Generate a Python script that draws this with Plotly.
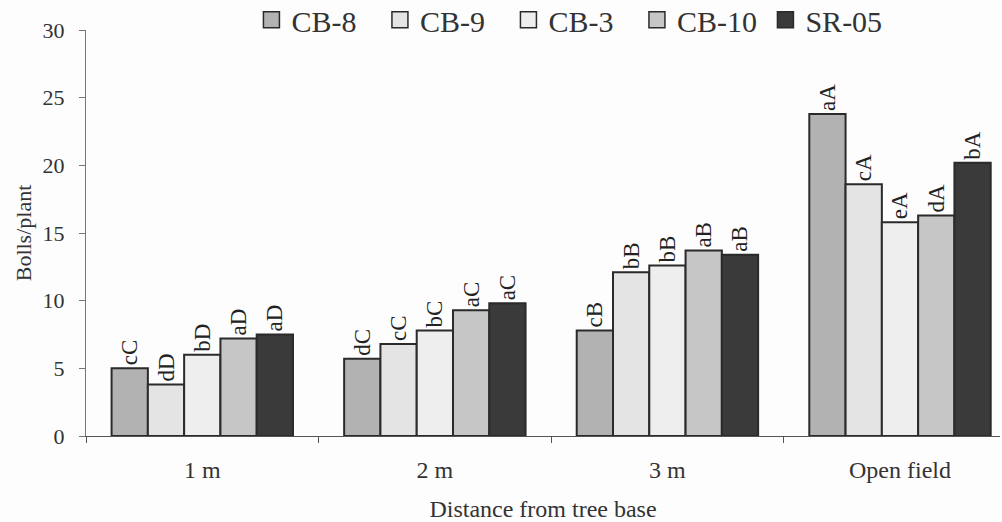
import plotly.graph_objects as go

categories = ["1 m", "2 m", "3 m", "Open field"]
series_names = ["CB-8", "CB-9", "CB-3", "CB-10", "SR-05"]
cb8 = [5.0, 5.7, 7.8, 23.8]
cb9 = [3.8, 6.8, 12.1, 18.6]
cb3 = [6.0, 7.8, 12.6, 15.8]
cb10 = [7.2, 9.3, 13.7, 16.3]
sr05 = [7.5, 9.8, 13.4, 20.2]
lbl_cb8 = ["cC", "dC", "cB", "aA"]
lbl_cb9 = ["dD", "cC", "bB", "cA"]
lbl_cb3 = ["bD", "bC", "bB", "eA"]
lbl_cb10 = ["aD", "aC", "aB", "dA"]
lbl_sr05 = ["aD", "aC", "aB", "bA"]
y_ticks = [0, 5, 10, 15, 20, 25, 30]

values = [cb8, cb9, cb3, cb10, sr05]
labels = [lbl_cb8, lbl_cb9, lbl_cb3, lbl_cb10, lbl_sr05]
colors = ["#b2b2b2", "#e4e4e4", "#eeeeee", "#c6c6c6", "#3a3a3a"]

FONT = "Liberation Serif, Times New Roman, serif"
fig = go.Figure()
for name, vals, lbls, col in zip(series_names, values, labels, colors):
    fig.add_trace(go.Bar(
        x=categories, y=vals, name=name, text=lbls,
        textposition="outside", textangle=-90,
        textfont=dict(family=FONT, size=23, color="#222222"),
        marker=dict(color=col, line=dict(color="#2a2a2a", width=2)),
        cliponaxis=False, showlegend=False,
    ))
for name, col in zip(series_names, colors):
    fig.add_trace(go.Scatter(
        x=[None], y=[None], mode="markers", name=name,
        marker=dict(symbol="square", size=16, color=col,
                    line=dict(color="#2a2a2a", width=1.5)),
        showlegend=True,
    ))

fig.update_layout(
    width=1002, height=522,
    margin=dict(l=86, r=2, t=30, b=86, autoexpand=False),
    paper_bgcolor="#fdfdfd", plot_bgcolor="#fdfdfd",
    barmode="group", bargap=0.22, bargroupgap=0,
    font=dict(family=FONT, color="#333333"),
    legend=dict(orientation="h", x=0.181, xanchor="left", y=1.025, yanchor="middle",
                font=dict(family=FONT, size=30, color="#333333"),
                bgcolor="rgba(0,0,0,0)", entrywidth=83.5, entrywidthmode="pixels",
                itemsizing="trace"),
)
fig.update_xaxes(
    range=[-0.5, 3.43], showline=True, linecolor="#555555", linewidth=1,
    ticks="outside", tickson="boundaries", ticklen=6, tickcolor="#555555",
    tickfont=dict(family=FONT, size=24, color="#333333"),
    ticklabelstandoff=12, automargin=False,
    title=dict(text="Distance from tree base", font=dict(family=FONT, size=24, color="#333333"), standoff=18),
    showgrid=False, zeroline=False,
)
fig.update_yaxes(
    range=[0, 30], tickvals=y_ticks, showline=True, linecolor="#777777", linewidth=1,
    ticks="outside", ticklen=6, tickcolor="#777777",
    tickfont=dict(family=FONT, size=22, color="#333333"),
    ticklabelstandoff=10, automargin=False,
    title=dict(text="Bolls/plant", font=dict(family=FONT, size=22, color="#333333"), standoff=4),
    showgrid=False, zeroline=False,
)
fig.write_html("out.html", config={"displayModeBar": False},
               post_script="document.body.style.margin='0';document.body.style.overflow='hidden';")
